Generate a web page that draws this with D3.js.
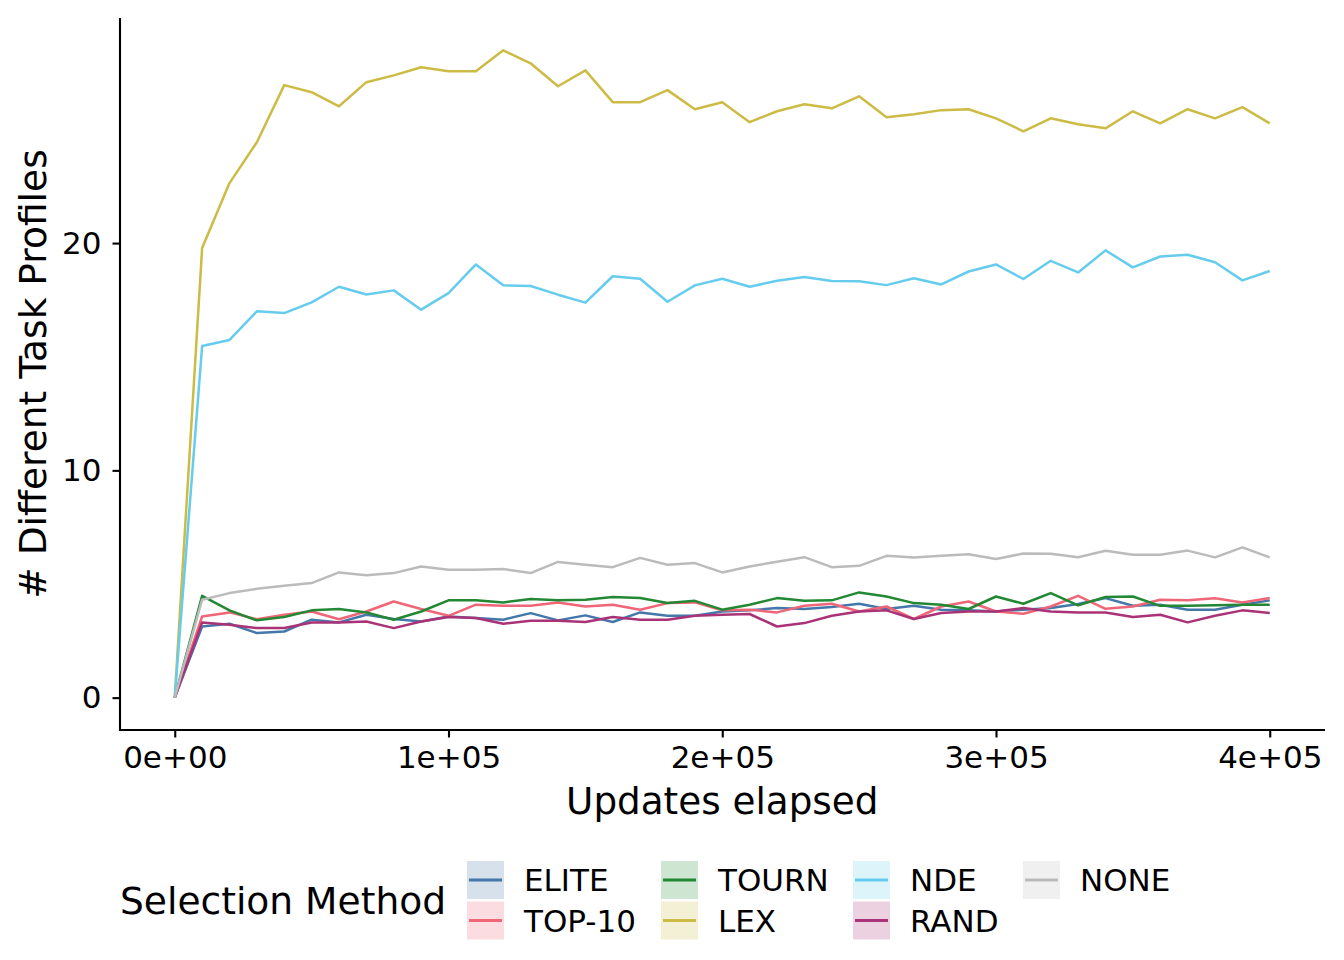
<!DOCTYPE html>
<html>
<head>
<meta charset="utf-8">
<script src="https://cdn.jsdelivr.net/npm/d3@7"></script>
<style>
  html, body { margin: 0; padding: 0; background: #fff; }
  svg { display: block; }
  text { font-family: "DejaVu Sans", sans-serif; fill: #000; }
</style>
</head>
<body>
<svg id="chart" width="1344" height="960"></svg>
<script>
const updates = [0, 10000, 20000, 30000, 40000, 50000, 60000, 70000, 80000, 90000,
  100000, 110000, 120000, 130000, 140000, 150000, 160000, 170000, 180000, 190000,
  200000, 210000, 220000, 230000, 240000, 250000, 260000, 270000, 280000, 290000,
  300000, 310000, 320000, 330000, 340000, 350000, 360000, 370000, 380000, 390000, 400000];

const methods = ["ELITE", "TOP-10", "TOURN", "LEX", "NDE", "RAND", "NONE"];
const methodColors = ["#4477AA", "#EE6677", "#228833", "#CCBB44", "#66CCEE", "#AA3377", "#BBBBBB"];

const eliteVals = [0, 3.13, 3.25, 2.84, 2.91, 3.43, 3.31, 3.65, 3.46, 3.35, 3.57, 3.50, 3.43, 3.72, 3.40,
  3.62, 3.33, 3.75, 3.60, 3.60, 3.79, 3.84, 3.94, 3.90, 3.99, 4.13, 3.90, 4.04, 3.87,
  3.84, 3.79, 3.87, 3.94, 4.12, 4.38, 4.04, 4.09, 3.87, 3.87, 4.09, 4.28];
const top10Vals = [0, 3.57, 3.75, 3.45, 3.65, 3.79, 3.45, 3.79, 4.23, 3.90, 3.60, 4.09, 4.04, 4.04, 4.19,
  4.01, 4.09, 3.87, 4.16, 4.19, 3.84, 3.87, 3.75, 4.04, 4.13, 3.79, 4.01, 3.46, 4.01,
  4.23, 3.79, 3.69, 4.01, 4.48, 3.91, 4.01, 4.31, 4.28, 4.37, 4.19, 4.38];
const tournVals = [0, 4.48, 3.84, 3.40, 3.55, 3.84, 3.90, 3.75, 3.43, 3.79, 4.28, 4.28, 4.19, 4.34, 4.28,
  4.31, 4.43, 4.38, 4.16, 4.26, 3.87, 4.09, 4.38, 4.26, 4.28, 4.63, 4.45, 4.16, 4.09,
  3.90, 4.45, 4.13, 4.60, 4.06, 4.43, 4.45, 4.04, 4.04, 4.06, 4.09, 4.09];
const lexVals = [0, 19.78, 22.64, 24.44, 26.95, 26.64, 26.02, 27.08, 27.38, 27.74, 27.56,
  27.56, 28.48, 27.91, 26.90, 27.60, 26.20, 26.20, 26.73, 25.89, 26.20,
  25.32, 25.80, 26.11, 25.93, 26.46, 25.54, 25.67, 25.85, 25.89, 25.49,
  24.92, 25.49, 25.23, 25.05, 25.80, 25.27, 25.89, 25.49, 25.98, 25.27];
const ndeVals = [0, 15.47, 15.74, 17.00, 16.92, 17.39, 18.08, 17.74, 17.92, 17.07, 17.80,
  19.06, 18.14, 18.11, 17.73, 17.38, 18.54, 18.43, 17.42, 18.14, 18.43,
  18.08, 18.34, 18.51, 18.33, 18.32, 18.15, 18.45, 18.18, 18.75, 19.06,
  18.42, 19.22, 18.71, 19.68, 18.93, 19.41, 19.49, 19.16, 18.36, 18.77];
const randVals = [0, 3.31, 3.21, 3.06, 3.06, 3.31, 3.31, 3.35, 3.06, 3.35, 3.55, 3.50, 3.25, 3.38, 3.38,
  3.33, 3.55, 3.43, 3.43, 3.60, 3.65, 3.68, 3.13, 3.28, 3.60, 3.79, 3.84, 3.46, 3.72,
  3.79, 3.79, 3.94, 3.79, 3.75, 3.75, 3.55, 3.65, 3.31, 3.60, 3.84, 3.72];
const noneVals = [0, 4.31, 4.60, 4.79, 4.92, 5.04, 5.51, 5.38, 5.48, 5.77, 5.63,
  5.63, 5.66, 5.48, 5.97, 5.85, 5.74, 6.15, 5.85, 5.92, 5.51,
  5.77, 5.98, 6.18, 5.74, 5.80, 6.24, 6.17, 6.24, 6.31, 6.10,
  6.34, 6.33, 6.18, 6.46, 6.29, 6.29, 6.47, 6.17, 6.61, 6.17];

const xTicks = [0, 100000, 200000, 300000, 400000];
const xTickLabels = ["0e+00", "1e+05", "2e+05", "3e+05", "4e+05"];
const yTicks = [0, 10, 20];

const xTitle = "Updates elapsed";
const yTitle = "# Different Task Profiles";
const legendTitle = "Selection Method";

(function () {
const seriesValues = [eliteVals, top10Vals, tournVals, lexVals, ndeVals, randVals, noneVals];
const series = methods.map((m, i) => ({
  name: m, color: methodColors[i],
  points: updates.map((u, j) => ({ x: u, y: seriesValues[i][j] }))
}));

const svg = d3.select("#chart");
const pLeft = 120, pRight = 1324.5, pTop = 18, pBottom = 730;
const labelSize = 31;

// ggplot-style 5% expansion
const xMin = d3.min(updates), xMax = d3.max(updates);
const xPad = (xMax - xMin) * 0.05;
const allY = seriesValues.flat();
const yMin = d3.min(allY), yMax = d3.max(allY);
const yPad = (yMax - yMin) * 0.05;

const x = d3.scaleLinear().domain([xMin - xPad, xMax + xPad]).range([pLeft, pRight]);
const y = d3.scaleLinear().domain([yMin - yPad, yMax + yPad]).range([pBottom, pTop]);

// lines
const line = d3.line().x(d => x(d.x)).y(d => y(d.y));
svg.append("g").selectAll("path").data(series).join("path")
  .attr("d", d => line(d.points))
  .attr("fill", "none")
  .attr("stroke", d => d.color)
  .attr("stroke-width", 2.5)
  .attr("stroke-linejoin", "round");

// axes
const xAxis = d3.axisBottom(x).tickValues(xTicks)
  .tickFormat((d, i) => xTickLabels[i]).tickSize(7.5).tickPadding(8);
const gx = svg.append("g").attr("transform", `translate(0,${pBottom})`).call(xAxis);
gx.select(".domain").attr("d", `M${pLeft},0H${pRight + 0.5}`).attr("stroke", "#000").attr("stroke-width", 2.1);
gx.selectAll(".tick line").attr("stroke", "#000").attr("stroke-width", 2.1);
gx.selectAll(".tick text").attr("font-size", labelSize).attr("font-family", "DejaVu Sans").attr("fill", "#000");

const yAxis = d3.axisLeft(y).tickValues(yTicks).tickFormat(d3.format("d")).tickSize(7.5).tickPadding(11);
const gy = svg.append("g").attr("transform", `translate(${pLeft},0)`).call(yAxis);
gy.select(".domain").attr("d", `M0,${pBottom + 1}V${pTop}`).attr("stroke", "#000").attr("stroke-width", 2.1);
gy.selectAll(".tick line").attr("stroke", "#000").attr("stroke-width", 2.1);
gy.selectAll(".tick text").attr("font-size", labelSize).attr("font-family", "DejaVu Sans").attr("fill", "#000");

// axis titles
svg.append("text").attr("x", (pLeft + pRight) / 2).attr("y", 814)
  .attr("text-anchor", "middle").attr("font-size", 37.3).text(xTitle);
svg.append("text")
  .attr("transform", `translate(46,${(pTop + pBottom) / 2}) rotate(-90)`)
  .attr("text-anchor", "middle").attr("font-size", 37.6).text(yTitle);

// legend
svg.append("text").attr("x", 120).attr("y", 901).attr("dominant-baseline", "central")
  .attr("font-size", 37.6).text(legendTitle);

const colX = [467, 661, 853, 1023];
const rowY = [861, 901.5];
const keyW = 37, keyH = 38;
const legendG = svg.append("g");
series.forEach((s, i) => {
  const col = Math.floor(i / 2), row = i % 2;
  const kx = colX[col], ky = rowY[row];
  const g = legendG.append("g");
  g.append("rect").attr("x", kx).attr("y", ky).attr("width", keyW).attr("height", keyH)
    .attr("fill", s.color).attr("fill-opacity", 0.22);
  g.append("line").attr("x1", kx + 2).attr("x2", kx + keyW - 2)
    .attr("y1", ky + keyH / 2).attr("y2", ky + keyH / 2)
    .attr("stroke", s.color).attr("stroke-width", 2.8);
  g.append("text").attr("x", kx + 57).attr("y", ky + keyH / 2)
    .attr("dominant-baseline", "central").attr("font-size", labelSize).text(s.name);
});
})();
</script>
</body>
</html>
